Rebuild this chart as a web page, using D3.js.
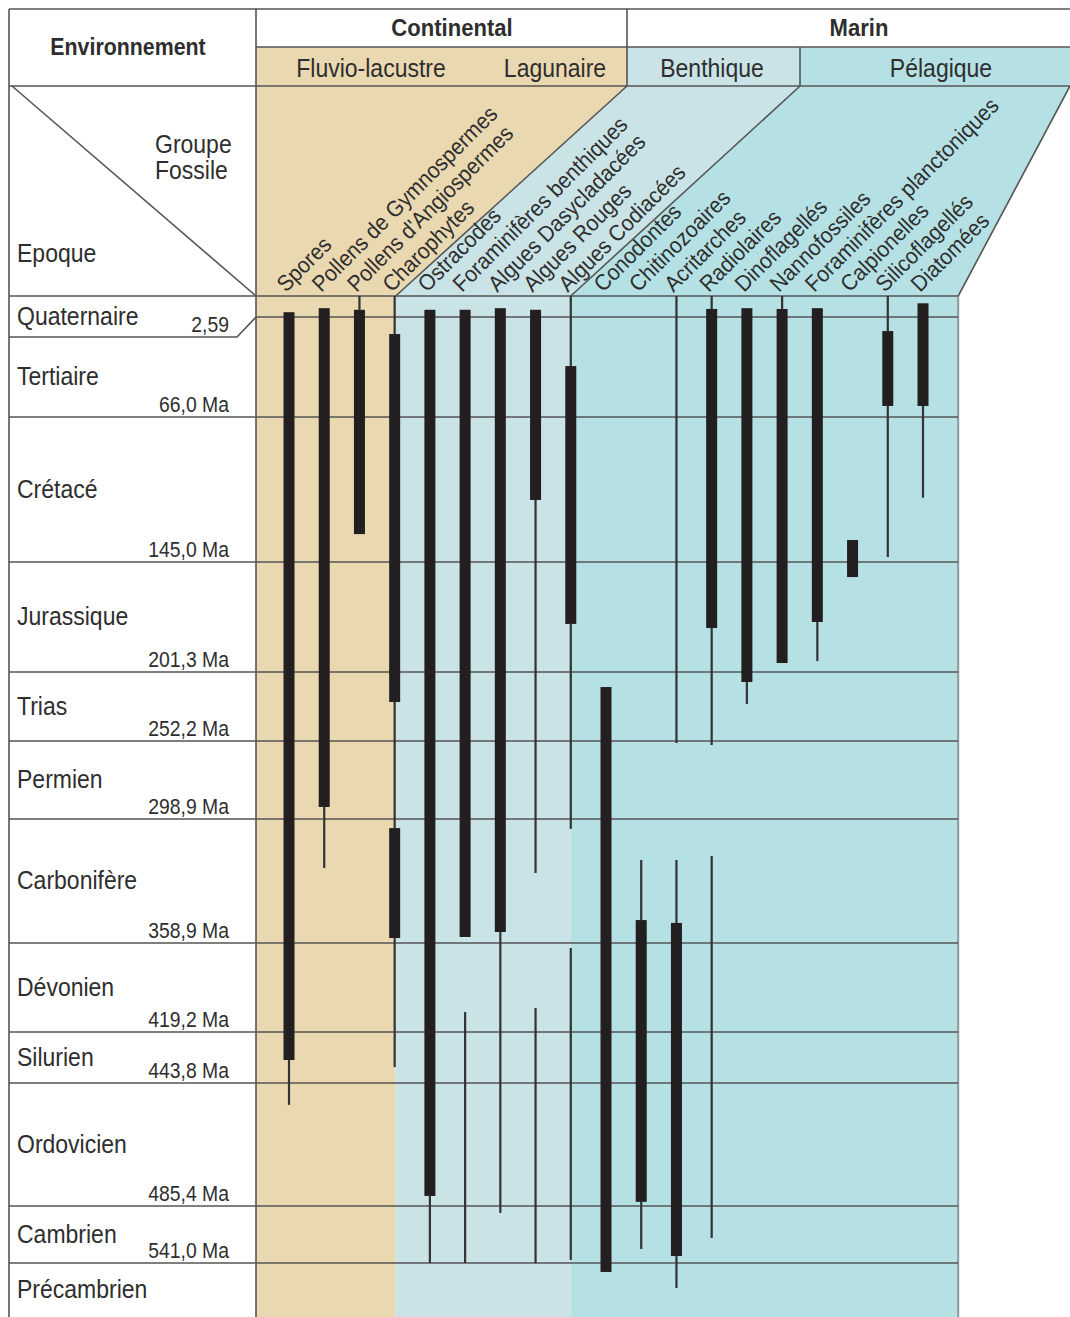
<!DOCTYPE html>
<html>
<head>
<meta charset="utf-8">
<script src="https://cdn.jsdelivr.net/npm/d3@7"></script>
<style>
  body { margin: 0; background: #fff; }
  svg text { font-family: "Liberation Sans", Arial, sans-serif; fill: #2e2e2e; }
</style>
</head>
<body>
<script>
// geological periods, top to bottom, and their lower boundary ages (Ma)
var periods = ["Quaternaire", "Tertiaire", "Crétacé", "Jurassique", "Trias", "Permien",
               "Carbonifère", "Dévonien", "Silurien", "Ordovicien", "Cambrien", "Précambrien"];
var boundaryAges = [0, 2.59, 66.0, 145.0, 201.3, 252.2, 298.9, 358.9, 419.2, 443.8, 485.4, 541.0, 600];
var ageLabels = ["2,59", "66,0 Ma", "145,0 Ma", "201,3 Ma", "252,2 Ma", "298,9 Ma",
                 "358,9 Ma", "419,2 Ma", "443,8 Ma", "485,4 Ma", "541,0 Ma"];

// fossil groups (columns)
var groups = ["Spores", "Pollens de Gymnospermes", "Pollens d'Angiospermes", "Charophytes",
              "Ostracodes", "Foraminifères benthiques", "Algues Dasycladacées", "Algues Rouges",
              "Algues Codiacées", "Conodontes", "Chitinozoaires", "Acritarches", "Radiolaires",
              "Dinoflagellés", "Nannofossiles", "Foraminifères planctoniques", "Calpionelles",
              "Silicoflagellés", "Diatomées"];

// thick bars : main range [from, to] in Ma
var thickRanges = [
  [[2.0, 432.7]],
  [[1.5, 291.7]],
  [[1.7, 129.8]],
  [[13.4, 223.4], [303.3, 356.5]],
  [[1.7, 482.0]],
  [[1.7, 356.0]],
  [[1.5, 353.6]],
  [[1.7, 111.2]],
  [[33.7, 176.7]],
  [[212.4, 550.8]],
  [[347.8, 484.0]],
  [[349.2, 534.2]],
  [[1.6, 178.8]],
  [[1.5, 208.7]],
  [[1.6, 196.7]],
  [[1.5, 175.7]],
  [[133.0, 152.7]],
  [[11.5, 59.0]],
  [[0.9, 59.0]]
];
// thin lines : uncertain / rare range [from, to] in Ma
var thinRanges = [
  [[432.7, 451.2]],
  [[291.7, 322.6]],
  [[0, 1.7]],
  [[0, 13.4], [223.4, 303.3], [356.5, 436.1]],
  [[482.0, 541.0]],
  [[405.7, 541.0]],
  [[353.6, 492.2]],
  [[111.2, 325.0], [403.0, 541.0]],
  [[0, 33.7], [176.7, 303.7], [362.3, 538.0]],
  [],
  [[318.7, 347.8], [484.0, 527.3]],
  [[0, 253.4], [318.7, 349.2], [534.2, 568.3]],
  [[0, 1.6], [178.8, 254.6], [316.8, 516.6]],
  [[208.7, 224.9]],
  [[0, 1.6]],
  [[175.7, 195.7]],
  [],
  [[0, 11.5], [59.0, 142.3]],
  [[59.0, 110.0]]
];

var W = 1070, H = 1317;
var beige = "#ead8b1", benth = "#c9e3e7", pelag = "#b5e1e5", lineCol = "#555";

// vertical layout of the period bands (pixels)
var bandY = [296, 317, 417, 562, 672, 741, 819, 943, 1032, 1083, 1206, 1263, 1317];
var y = d3.scaleLinear().domain(boundaryAges).range(bandY);
var x = d3.scalePoint().domain(groups).range([289, 923]);
var step = x.step();

var xLeft = 256, xBenth = x("Charophytes") + 1, xPelag = x("Algues Codiacées"), xRight = x(groups[groups.length - 1]) + step;
var top0 = 9, rowA = 47, rowB = 86, chartTop = bandY[0];

var svg = d3.select("body").append("svg").attr("width", W).attr("height", H);

// text helper, sx squeezes the glyphs to mimic a condensed face
function txt(px, py, s, size, opts) {
  opts = opts || {};
  var sx = opts.sx || 1;
  var tr = "translate(" + px + "," + py + ")" + (opts.rot ? " rotate(" + opts.rot + ")" : "") + " scale(" + sx + ",1)";
  return svg.append("text")
    .attr("transform", tr)
    .attr("font-size", size)
    .attr("font-weight", opts.bold ? "bold" : null)
    .attr("text-anchor", opts.anchor || "start")
    .text(s);
}
function line(x1, y1, x2, y2, col, w) {
  svg.append("line").attr("x1", x1).attr("y1", y1).attr("x2", x2).attr("y2", y2)
    .attr("stroke", col || lineCol).attr("stroke-width", w || 1.6);
}

// header fills
svg.append("rect").attr("x", xLeft).attr("y", rowA).attr("width", 627 - xLeft).attr("height", rowB - rowA).attr("fill", beige);
svg.append("rect").attr("x", 627).attr("y", rowA).attr("width", 800 - 627).attr("height", rowB - rowA).attr("fill", benth);
svg.append("rect").attr("x", 800).attr("y", rowA).attr("width", W - 800).attr("height", rowB - rowA).attr("fill", pelag);

var polys = [
  {pts: [[xLeft, rowB], [627, rowB], [xBenth, chartTop], [xLeft, chartTop]], fill: beige},
  {pts: [[627, rowB], [800, rowB], [xPelag, chartTop], [xBenth, chartTop]], fill: benth},
  {pts: [[800, rowB], [W, rowB], [xRight, chartTop], [xPelag, chartTop]], fill: pelag}
];
svg.selectAll("polygon.env").data(polys).enter().append("polygon")
  .attr("class", "env")
  .attr("points", function(d) { return d.pts.join(" "); })
  .attr("fill", function(d) { return d.fill; });

// chart body fills
svg.append("rect").attr("x", xLeft).attr("y", chartTop).attr("width", xBenth - xLeft).attr("height", H - chartTop).attr("fill", beige);
svg.append("rect").attr("x", xBenth).attr("y", chartTop).attr("width", xPelag - xBenth).attr("height", H - chartTop).attr("fill", benth);
svg.append("rect").attr("x", xPelag).attr("y", chartTop).attr("width", xRight - xPelag).attr("height", H - chartTop).attr("fill", pelag);

// header grid
line(9, top0, W, top0);
line(xLeft, rowA, W, rowA);
line(9, rowB, W, rowB);
line(9, top0, 9, H);
line(xLeft, top0, xLeft, H);
line(627, top0, 627, rowB);
line(800, rowA, 800, rowB);
line(627, rowB, xBenth, chartTop);
line(800, rowB, xPelag, chartTop);
line(W, rowB, xRight, chartTop);
line(12, rowB, xLeft, chartTop);
line(xRight, chartTop, xRight, H, "#8a9a9c", 2);

// period boundaries
line(9, chartTop, xRight, chartTop);
boundaryAges.slice(1, -1).forEach(function(a, i) {
  var yy = y(a);
  if (i === 0) {
    line(xLeft, yy, xRight, yy);
    svg.append("polyline").attr("points", [[9, 337], [237, 337], [xLeft, yy]].join(" "))
      .attr("fill", "none").attr("stroke", lineCol).attr("stroke-width", 1.6);
  } else {
    line(9, yy, xRight, yy);
  }
});

// bars
var cols = svg.append("g");
groups.forEach(function(g, i) {
  cols.selectAll("rect.thin" + i).data(thinRanges[i]).enter().append("rect")
    .attr("x", x(g) - 1.1).attr("width", 2.2)
    .attr("y", function(d) { return y(d[0]); })
    .attr("height", function(d) { return y(d[1]) - y(d[0]); })
    .attr("fill", "#333");
  cols.selectAll("rect.thick" + i).data(thickRanges[i]).enter().append("rect")
    .attr("x", x(g) - 5.5).attr("width", 11)
    .attr("y", function(d) { return y(d[0]); })
    .attr("height", function(d) { return y(d[1]) - y(d[0]); })
    .attr("fill", "#231f20");
});

// header texts
txt(128, 55, "Environnement", 24, {bold: true, anchor: "middle", sx: 0.89});
txt(452, 36, "Continental", 24, {bold: true, anchor: "middle", sx: 0.92});
txt(859, 36, "Marin", 24, {bold: true, anchor: "middle", sx: 0.92});
txt(371, 77, "Fluvio-lacustre", 25, {anchor: "middle", sx: 0.92});
txt(555, 77, "Lagunaire", 25, {anchor: "middle", sx: 0.92});
txt(712, 77, "Benthique", 25, {anchor: "middle", sx: 0.92});
txt(941, 77, "Pélagique", 25, {anchor: "middle", sx: 0.92});
txt(155, 153, "Groupe", 25, {sx: 0.92});
txt(155, 179, "Fossile", 25, {sx: 0.92});
txt(17, 262, "Epoque", 25, {sx: 0.92});

// rotated group labels
groups.forEach(function(g) {
  txt(x(g) - 3, 293, g, 22.5, {rot: -45, sx: 0.93});
});

// period names and ages
periods.forEach(function(p, i) {
  var t = i === 0 ? bandY[0] : (i === 1 ? 337 : bandY[i]);
  var b = i === 0 ? 337 : bandY[i + 1];
  txt(17, (t + b) / 2 + 8, p, 25, {sx: 0.92});
});
ageLabels.forEach(function(a, i) {
  var b = i === 0 ? 337 : bandY[i + 1];
  txt(229, b - 5, a, 22, {anchor: "end", sx: 0.88});
});
</script>
</body>
</html>
